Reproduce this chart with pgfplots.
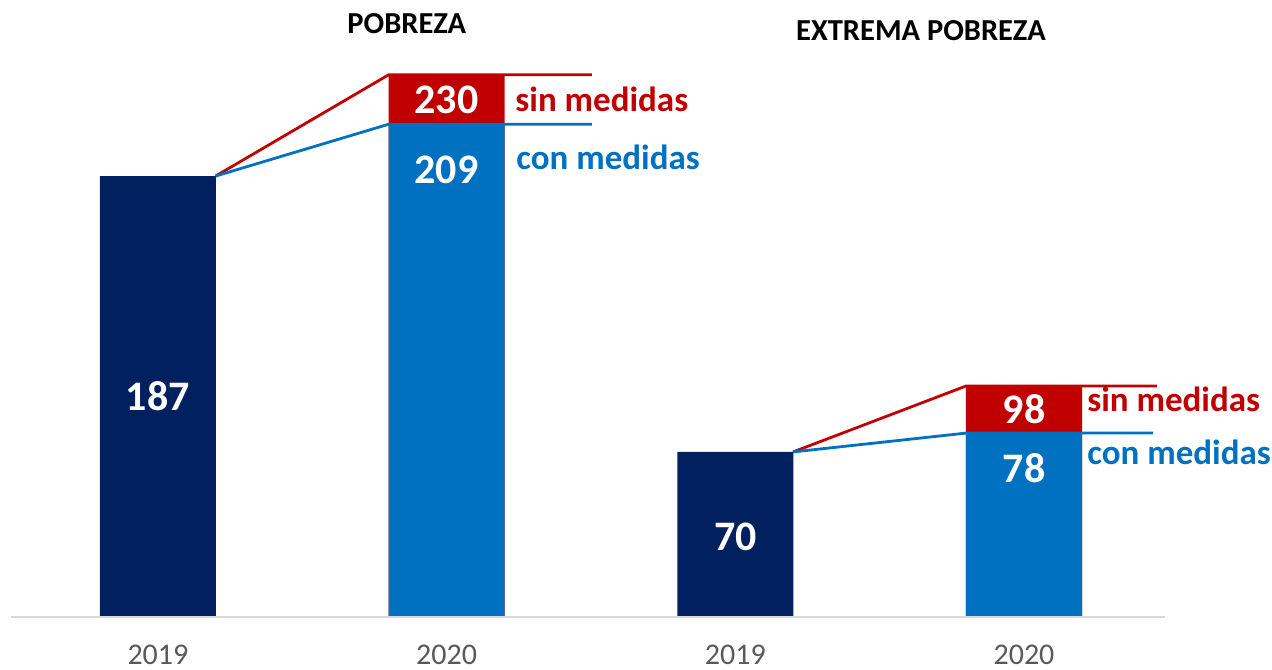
\documentclass[border=0pt]{standalone}
\usepackage{pgfplots}
\pgfplotsset{compat=1.18}
\usepackage{fontspec}
\setmainfont{Carlito}
\definecolor{navy}{RGB}{0,32,96}
\definecolor{azul}{RGB}{0,112,192}
\definecolor{rojo}{RGB}{192,0,0}
\definecolor{eje}{RGB}{217,217,217}
\definecolor{tick}{RGB}{89,89,89}
\begin{document}
\begin{tikzpicture}
\begin{axis}[scale only axis,width=636pt,height=334.5pt,
 xmin=-0.547,xmax=3.859,ymin=-22.05,ymax=261.66,hide axis,clip=false]
\coordinate (ll) at (rel axis cs:0,0);
\coordinate (ur) at (rel axis cs:1,1);
% barras 2019
\addplot[ybar,bar width=0.402,bar shift=0pt,fill=navy,draw=none] coordinates {(0,187)(2,70)};
% 2020 sin medidas (detras) y con medidas (delante)
\addplot[ybar,bar width=0.402,bar shift=0pt,fill=rojo,draw=none] coordinates {(1,230)(3,98)};
\addplot[ybar,bar width=0.402,bar shift=0pt,fill=azul,draw=none] coordinates {(1,209)(3,78)};
% lineas de conexion
\addplot[rojo,line width=1.4pt,no marks] coordinates {(0.2,187)(0.8,230)(1.503,230)};
\addplot[azul,line width=1.4pt,no marks] coordinates {(0.2,187)(0.8,209)(1.503,209)};
\addplot[rojo,line width=1.4pt,no marks] coordinates {(2.2,70)(2.8,98)(3.46,98)};
\addplot[azul,line width=1.4pt,no marks] coordinates {(2.2,70)(2.8,78)(3.447,78)};
\draw[eje,line width=1.2pt] (axis cs:-0.51,0) -- (axis cs:3.49,0);
% valores
\begin{scope}[every node/.style={font=\fontsize{21}{24}\selectfont\bfseries,text=white}]
\node at (axis cs:0,93.5) {187};
\node at (axis cs:1,189.6) {209};
\node at (axis cs:1,219.5) {230};
\node at (axis cs:2,34) {70};
\node at (axis cs:3,63.2) {78};
\node at (axis cs:3,88) {98};
\end{scope}
\begin{scope}[every node/.style={font=\fontsize{17.5}{20}\selectfont\bfseries,anchor=west,inner sep=0pt}]
\node[text=rojo] at (axis cs:1.237,219.5) {sin medidas};
\node[text=azul] at (axis cs:1.24,195) {con medidas};
\node[text=rojo] at (axis cs:3.218,92.4) {sin medidas};
\node[text=azul] at (axis cs:3.218,70) {con medidas};
\end{scope}
\node[font=\fontsize{15.25}{18}\selectfont\bfseries] at (axis cs:0.862,251.5) {POBREZA};
\node[font=\fontsize{15.25}{18}\selectfont\bfseries] at (axis cs:2.643,248.5) {EXTREMA POBREZA};
\node[font=\fontsize{15}{18}\selectfont,text=tick] at (axis cs:0,-16) {2019};
\node[font=\fontsize{15}{18}\selectfont,text=tick] at (axis cs:1,-16) {2020};
\node[font=\fontsize{15}{18}\selectfont,text=tick] at (axis cs:2,-16) {2019};
\node[font=\fontsize{15}{18}\selectfont,text=tick] at (axis cs:3,-16) {2020};
\end{axis}
\pgfresetboundingbox
\path[use as bounding box] (ll) rectangle (ur);
\end{tikzpicture}
\end{document}
